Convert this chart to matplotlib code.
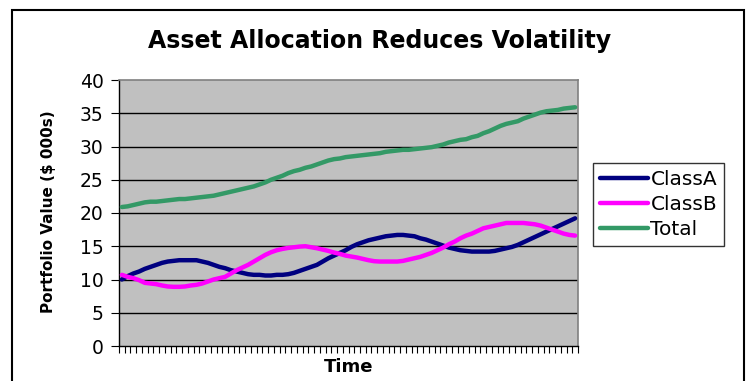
import numpy as np
import matplotlib
matplotlib.use("Agg")
import matplotlib.pyplot as plt
from matplotlib.patches import Rectangle

plt.rcParams['font.family'] = ['DejaVu Sans']

# valors llegits del grafic (80 periodes)
class_a = [10.0, 10.5, 10.9, 11.2, 11.6, 11.9, 12.2, 12.5, 12.7, 12.8,
           12.9, 12.9, 12.9, 12.9, 12.7, 12.5, 12.2, 11.9, 11.7, 11.4,
           11.2, 11.0, 10.8, 10.7, 10.7, 10.6, 10.6, 10.7, 10.7, 10.8,
           11.0, 11.3, 11.6, 11.9, 12.2, 12.7, 13.2, 13.6, 14.0, 14.4,
           14.9, 15.3, 15.6, 15.9, 16.1, 16.3, 16.5, 16.6, 16.7, 16.7,
           16.6, 16.5, 16.2, 16.0, 15.7, 15.4, 15.1, 14.8, 14.6, 14.4,
           14.3, 14.2, 14.2, 14.2, 14.2, 14.3, 14.5, 14.7, 14.9, 15.2,
           15.6, 16.0, 16.4, 16.8, 17.2, 17.6, 18.0, 18.4, 18.8, 19.2]
class_b = [10.7, 10.4, 10.2, 9.9, 9.5, 9.4, 9.3, 9.1, 8.95, 8.9,
           8.9, 8.95, 9.1, 9.2, 9.4, 9.7, 10.0, 10.2, 10.4, 10.9,
           11.4, 11.8, 12.2, 12.7, 13.2, 13.7, 14.1, 14.4, 14.6, 14.75,
           14.85, 14.95, 15.0, 14.85, 14.7, 14.5, 14.3, 14.05, 13.85, 13.6,
           13.45, 13.3, 13.1, 12.9, 12.75, 12.7, 12.7, 12.7, 12.7, 12.8,
           13.0, 13.2, 13.4, 13.7, 14.0, 14.4, 14.8, 15.3, 15.7, 16.2,
           16.6, 16.9, 17.3, 17.7, 17.9, 18.1, 18.3, 18.5, 18.5, 18.5,
           18.5, 18.4, 18.3, 18.1, 17.8, 17.5, 17.2, 16.9, 16.7, 16.6]
total = [20.9, 21.0, 21.2, 21.4, 21.6, 21.7, 21.7, 21.8, 21.9, 22.0,
         22.1, 22.1, 22.2, 22.3, 22.4, 22.5, 22.6, 22.8, 23.0, 23.2,
         23.4, 23.6, 23.8, 24.0, 24.3, 24.6, 25.0, 25.3, 25.6, 26.0,
         26.3, 26.5, 26.8, 27.0, 27.3, 27.6, 27.9, 28.1, 28.2, 28.4,
         28.5, 28.6, 28.7, 28.8, 28.9, 29.0, 29.2, 29.3, 29.4, 29.5,
         29.5, 29.6, 29.7, 29.8, 29.9, 30.1, 30.3, 30.6, 30.8, 31.0,
         31.1, 31.4, 31.6, 32.0, 32.3, 32.7, 33.1, 33.4, 33.6, 33.8,
         34.2, 34.5, 34.8, 35.1, 35.3, 35.4, 35.5, 35.7, 35.8, 35.9]
series_names = ['ClassA', 'ClassB', 'Total']
series_colors = ['#000080', '#FF00FF', '#339966']
y_ticks = [0, 5, 10, 15, 20, 25, 30, 35, 40]

t = np.arange(len(class_a))

fig = plt.figure(figsize=(7.49, 3.81), dpi=100)
W, H = 749, 381

# marc exterior del grafic
fig.patches.append(Rectangle((12 / W, -0.2), 732 / W, 1.2 - 10 / H,
                             transform=fig.transFigure, fill=False,
                             edgecolor='black', linewidth=1.5))

ax = fig.add_axes([119 / W, 35 / H, 459 / W, 266 / H])
ax.set_facecolor('#C0C0C0')

for y in y_ticks[1:-1]:
    ax.axhline(y, color='black', linewidth=1.0, zorder=1)

for vals, name, col in zip([class_a, class_b, total], series_names, series_colors):
    ax.plot(t, vals, color=col, linewidth=3.2, label=name, zorder=3,
            solid_capstyle='round', solid_joinstyle='round')

ax.set_xlim(-0.5, len(t) - 0.5)
ax.set_ylim(0, 40)
ax.set_yticks(y_ticks)
ax.set_yticklabels([str(v) for v in y_ticks], fontsize=13.5)
ax.set_xticks(np.arange(-0.5, len(t), 1))
ax.set_xticklabels([])
ax.tick_params(axis='x', length=5, width=0.8, color='black', direction='out')
ax.tick_params(axis='y', length=6, width=0.8, color='black', direction='out', pad=5)

for s in ['top', 'right']:
    ax.spines[s].set_color('#808080')
    ax.spines[s].set_linewidth(1.2)
for s in ['left', 'bottom']:
    ax.spines[s].set_color('black')
    ax.spines[s].set_linewidth(1.0)

fig.text(380 / W, 1 - 41 / H, 'Asset Allocation Reduces Volatility',
         ha='center', va='center', fontsize=17, fontweight='bold')
fig.text(48 / W, 1 - 212 / H, 'Portfolio Value ($ 000s)', rotation=90,
         ha='center', va='center', fontsize=11, fontweight='bold')
fig.text(349 / W, 1 - 367 / H, 'Time', ha='center', va='center',
         fontsize=13, fontweight='bold')

leg = fig.legend(loc='upper left', bbox_to_anchor=(593 / W, 1 - 163 / H),
                 fontsize=14.5, frameon=True, fancybox=False, handlelength=2.4,
                 handletextpad=0.1, borderpad=0.35, labelspacing=0.3,
                 borderaxespad=0)
leg.get_frame().set_edgecolor('black')
leg.get_frame().set_linewidth(1.0)

fig.savefig('out.png', dpi=100)
